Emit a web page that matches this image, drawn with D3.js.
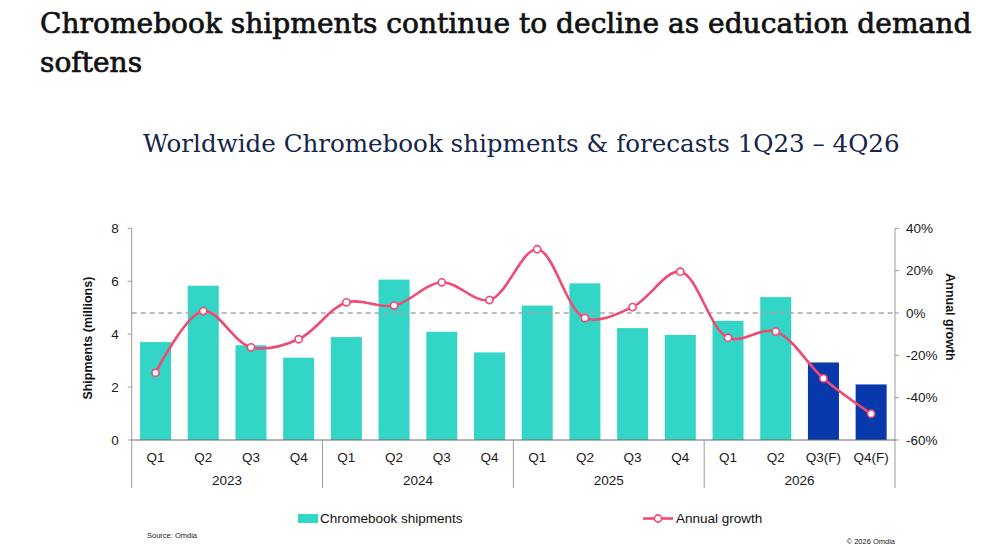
<!DOCTYPE html>
<html>
<head>
<meta charset="utf-8">
<script src="https://cdn.jsdelivr.net/npm/d3@7"></script>
<style>
  body { margin: 0; background: #fff; }
  svg { display: block; }
</style>
</head>
<body>
<svg id="chart" width="1000" height="556"></svg>
<script>
// values
const quarters = ['Q1', 'Q2', 'Q3', 'Q4', 'Q1', 'Q2', 'Q3', 'Q4', 'Q1', 'Q2', 'Q3', 'Q4', 'Q1', 'Q2', 'Q3(F)', 'Q4(F)'];
const years = ['2023', '2024', '2025', '2026'];
const shipments = [3.70, 5.83, 3.58, 3.11, 3.89, 6.06, 4.09, 3.31, 5.08, 5.92, 4.23, 3.97, 4.50, 5.40, 2.93, 2.10];
const growth = [-28.2, 0.9, -16.2, -12.4, 5.0, 3.5, 14.5, 6.1, 30.1, -2.4, 2.8, 19.5, -11.7, -8.8, -30.9, -47.6];
const isForecast = [false, false, false, false, false, false, false, false, false, false, false, false, false, false, true, true];
const leftTicks = [0, 2, 4, 6, 8];
const rightTicks = [-60, -40, -20, 0, 20, 40];

const svg = d3.select('#chart');
const sans = '"Liberation Sans", Arial, sans-serif';
const serif = '"DejaVu Serif", serif';

const plot = {left: 131.7, right: 895, top: 228.3, bottom: 440, catBottom: 488};
const idx = d3.range(quarters.length);

const x = d3.scaleBand().domain(idx).range([plot.left, plot.right]).paddingInner(0.35).paddingOuter(0.175);
const yL = d3.scaleLinear().domain([0, 8]).range([plot.bottom, plot.top]);
const yR = d3.scaleLinear().domain([-60, 40]).range([plot.bottom, plot.top]);

// fit a text line to a given width
function fitText(sel, width) {
	let w = sel.node().getComputedTextLength();
	let fs = parseFloat(sel.attr('font-size'));
	sel.attr('font-size', fs * width / w);
}

// titles (regular weight thickened a little with a stroke)
const t1 = svg.append('text').attr('x', 40).attr('y', 33)
	.attr('font-family', serif).attr('font-size', 28).attr('fill', '#111')
	.attr('stroke', '#111').attr('stroke-width', 0.7)
	.text('Chromebook shipments continue to decline as education demand');
fitText(t1, 932);
svg.append('text').attr('x', 40).attr('y', 72)
	.attr('font-family', serif).attr('font-size', t1.attr('font-size')).attr('fill', '#111')
	.attr('stroke', '#111').attr('stroke-width', 0.7)
	.text('softens');

const t2 = svg.append('text').attr('x', 143).attr('y', 152)
	.attr('font-family', serif).attr('font-size', 24).attr('fill', '#13254a')
	.text('Worldwide Chromebook shipments & forecasts 1Q23 \u2013 4Q26');
fitText(t2, 757);

// bars
svg.append('g').selectAll('rect').data(idx).join('rect')
	.attr('x', i => x(i))
	.attr('width', x.bandwidth())
	.attr('y', i => yL(shipments[i]))
	.attr('height', i => yL(0) - yL(shipments[i]))
	.attr('fill', i => isForecast[i] ? '#0739ab' : '#33d6c6');

// 0% reference line
svg.append('line')
	.attr('x1', plot.left).attr('x2', plot.right)
	.attr('y1', yR(0)).attr('y2', yR(0))
	.attr('stroke', '#a6a6a6').attr('stroke-width', 1.3).attr('stroke-dasharray', '5,4');

// axes lines
const axisCol = '#9a9a9a';
svg.append('line').attr('x1', plot.left).attr('x2', plot.left).attr('y1', plot.top).attr('y2', plot.catBottom)
	.attr('stroke', axisCol);
svg.append('line').attr('x1', plot.right).attr('x2', plot.right).attr('y1', plot.top).attr('y2', plot.catBottom)
	.attr('stroke', axisCol);
svg.append('line').attr('x1', plot.left).attr('x2', plot.right).attr('y1', plot.bottom).attr('y2', plot.bottom)
	.attr('stroke', '#6b6b6b');

// year separators
[4, 8, 12].forEach(i => {
	let xs = x(i) - x.step() * x.paddingInner() / 2;
	svg.append('line').attr('x1', xs).attr('x2', xs).attr('y1', plot.bottom).attr('y2', plot.catBottom)
		.attr('stroke', axisCol);
});

// left ticks
const gL = svg.append('g');
gL.selectAll('line').data(leftTicks).join('line')
	.attr('x1', plot.left - 4).attr('x2', plot.left)
	.attr('y1', d => yL(d)).attr('y2', d => yL(d)).attr('stroke', axisCol);
gL.selectAll('text').data(leftTicks).join('text')
	.attr('x', plot.left - 13).attr('y', d => yL(d)).attr('dy', '0.35em')
	.attr('text-anchor', 'end').attr('font-family', sans).attr('font-size', 13.5).attr('fill', '#1a1a1a')
	.text(d => d);

// right ticks
const gR = svg.append('g');
gR.selectAll('line').data(rightTicks).join('line')
	.attr('x1', plot.right).attr('x2', plot.right + 4)
	.attr('y1', d => yR(d)).attr('y2', d => yR(d)).attr('stroke', axisCol);
gR.selectAll('text').data(rightTicks).join('text')
	.attr('x', plot.right + 11).attr('y', d => yR(d)).attr('dy', '0.35em')
	.attr('font-family', sans).attr('font-size', 13.5).attr('fill', '#1a1a1a')
	.text(d => d + '%');

// category labels
svg.append('g').selectAll('text').data(idx).join('text')
	.attr('x', i => x(i) + x.bandwidth() / 2).attr('y', 457).attr('dy', '0.35em')
	.attr('text-anchor', 'middle').attr('font-family', sans).attr('font-size', 13.5).attr('fill', '#1a1a1a')
	.text(i => quarters[i]);
svg.append('g').selectAll('text').data(years).join('text')
	.attr('x', (d, k) => (x(k * 4) + x(k * 4 + 3) + x.bandwidth()) / 2).attr('y', 480).attr('dy', '0.35em')
	.attr('text-anchor', 'middle').attr('font-family', sans).attr('font-size', 13.5).attr('fill', '#1a1a1a')
	.text(d => d);

// axis titles
svg.append('text').attr('transform', `translate(92, ${(plot.top + plot.bottom) / 2 + 4}) rotate(-90)`)
	.attr('text-anchor', 'middle').attr('font-family', sans).attr('font-weight', 'bold').attr('font-size', 12.5).attr('fill', '#111')
	.text('Shipments (millions)');
svg.append('text').attr('transform', `translate(946, ${yR(0) + 4}) rotate(90)`)
	.attr('text-anchor', 'middle').attr('font-family', sans).attr('font-weight', 'bold').attr('font-size', 12.5).attr('fill', '#111')
	.text('Annual growth');

// growth line
const lineGen = d3.line()
	.x(i => x(i) + x.bandwidth() / 2)
	.y(i => yR(growth[i]))
	.curve(d3.curveCatmullRom.alpha(0.5));
svg.append('path').datum(idx).attr('d', lineGen)
	.attr('fill', 'none').attr('stroke', '#f04a72').attr('stroke-width', 2.6);
svg.append('g').selectAll('circle').data(idx).join('circle')
	.attr('cx', i => x(i) + x.bandwidth() / 2).attr('cy', i => yR(growth[i])).attr('r', 3.6)
	.attr('fill', '#fff').attr('stroke', '#f04a72').attr('stroke-width', 1.6);

// legend
const lg = svg.append('g').attr('font-family', sans).attr('font-size', 13.5).attr('fill', '#111');
lg.append('rect').attr('x', 298).attr('y', 514).attr('width', 20).attr('height', 9).attr('fill', '#33d6c6');
lg.append('text').attr('x', 320).attr('y', 518.5).attr('dy', '0.35em').text('Chromebook shipments');
lg.append('line').attr('x1', 643).attr('x2', 673).attr('y1', 518.5).attr('y2', 518.5)
	.attr('stroke', '#f04a72').attr('stroke-width', 2.6);
lg.append('circle').attr('cx', 658).attr('cy', 518.5).attr('r', 3.6)
	.attr('fill', '#fff').attr('stroke', '#f04a72').attr('stroke-width', 1.6);
lg.append('text').attr('x', 676).attr('y', 518.5).attr('dy', '0.35em').text('Annual growth');

// footer
svg.append('text').attr('x', 147).attr('y', 535).attr('dy', '0.35em')
	.attr('font-family', sans).attr('font-size', 7.5).attr('fill', '#222').text('Source: Omdia');
svg.append('text').attr('x', 895).attr('y', 541).attr('dy', '0.35em').attr('text-anchor', 'end')
	.attr('font-family', sans).attr('font-size', 7.5).attr('fill', '#222').text('\u00a9 2026 Omdia');
</script>
</body>
</html>
